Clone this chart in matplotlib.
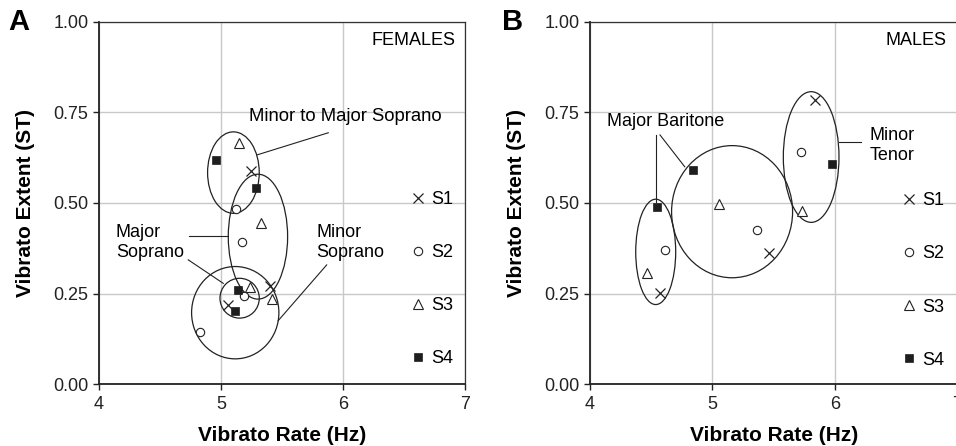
import matplotlib
matplotlib.use('Agg')
import matplotlib.pyplot as plt
from matplotlib.patches import Ellipse
from matplotlib.ticker import FormatStrFormatter
from matplotlib.lines import Line2D

plt.rcParams['font.family'] = ['Liberation Sans', 'DejaVu Sans']

# ---- data: females (panel A) ----
f_s1_rate = [5.246, 5.402, 5.056]
f_s1_ext = [0.589, 0.271, 0.218]
f_s2_rate = [5.121, 5.170, 5.192, 4.829]
f_s2_ext = [0.483, 0.392, 0.244, 0.143]
f_s3_rate = [5.148, 5.328, 5.238, 5.421]
f_s3_ext = [0.665, 0.446, 0.267, 0.235]
f_s4_rate = [4.957, 5.287, 5.143, 5.115]
f_s4_ext = [0.619, 0.541, 0.260, 0.202]

# ---- data: males (panel B) ----
m_s1_rate = [5.837, 5.464, 4.573]
m_s1_ext = [0.785, 0.363, 0.251]
m_s2_rate = [5.720, 5.361, 4.613]
m_s2_ext = [0.642, 0.425, 0.370]
m_s3_rate = [5.054, 5.733, 4.469]
m_s3_ext = [0.496, 0.479, 0.306]
m_s4_rate = [5.978, 4.844, 4.546]
m_s4_ext = [0.607, 0.591, 0.488]

# group ellipses: (centre rate, centre extent, width Hz, height ST)
f_groups = [(5.103, 0.584, 0.423, 0.225),
            (5.304, 0.407, 0.486, 0.345),
            (5.154, 0.237, 0.322, 0.110),
            (5.118, 0.197, 0.715, 0.255)]
m_groups = [(5.806, 0.627, 0.454, 0.361),
            (5.161, 0.476, 0.987, 0.365),
            (4.538, 0.365, 0.326, 0.291)]

subjects = ['S1', 'S2', 'S3', 'S4']
x_ticks = [4, 5, 6, 7]
y_ticks = [0.0, 0.25, 0.5, 0.75, 1.0]

fig = plt.figure(figsize=(9.56, 4.46), dpi=100)
axA = fig.add_axes([0.1033, 0.139, 0.3831, 0.8117])
axB = fig.add_axes([0.6169, 0.139, 0.3847, 0.8117])

sq_col = '#1e1e1e'


def style_axis(ax):
    ax.set_xlim(4, 7)
    ax.set_ylim(0, 1)
    ax.set_xticks(x_ticks)
    ax.set_yticks(y_ticks)
    ax.yaxis.set_major_formatter(FormatStrFormatter('%.2f'))
    ax.grid(True, color='#c8c8c8', lw=1.0, zorder=0)
    ax.set_axisbelow(True)
    ax.tick_params(direction='out', length=4.5, width=1.0, labelsize=13, colors='#222222')
    ax.tick_params(axis='x', pad=4)
    ax.tick_params(axis='y', pad=3)
    for s in ['left', 'bottom']:
        ax.spines[s].set_linewidth(1.3)
        ax.spines[s].set_color('#222222')
    for s in ['top', 'right']:
        ax.spines[s].set_linewidth(0.9)
        ax.spines[s].set_color('#333333')
    ax.set_xlabel('Vibrato Rate (Hz)', fontsize=15, fontweight='bold')
    ax.set_ylabel('Vibrato Extent (ST)', fontsize=15, fontweight='bold')
    ax.xaxis.set_label_coords(0.5, -0.141)
    ax.xaxis.label.set_va('center')
    ax.yaxis.set_label_coords(-0.20, 0.5)
    ax.yaxis.label.set_va('center')


def draw_points(ax, s1, s2, s3, s4):
    ax.plot(s1[0], s1[1], 'x', ms=7, mew=0.9, color='#222222', ls='none', zorder=3)
    ax.plot(s2[0], s2[1], 'o', ms=6, mew=0.8, mfc='white', mec='#222222', ls='none', zorder=3)
    ax.plot(s3[0], s3[1], '^', ms=7, mew=0.8, mfc='white', mec='#222222', ls='none', zorder=3)
    ax.plot(s4[0], s4[1], 's', ms=6, mew=0.5, color=sq_col, ls='none', zorder=3)


def draw_groups(ax, groups):
    for cx, cy, w, h in groups:
        ax.add_patch(Ellipse((cx, cy), w, h, fill=False, lw=0.9, ec='#222222', zorder=2))


def add_legend(ax, anchor):
    handles = [
        Line2D([], [], marker='x', ms=7, mew=0.9, color='#222222', ls='none'),
        Line2D([], [], marker='o', ms=6, mew=0.8, mfc='white', mec='#222222', ls='none'),
        Line2D([], [], marker='^', ms=7, mew=0.8, mfc='white', mec='#222222', ls='none'),
        Line2D([], [], marker='s', ms=6, mew=0.5, color=sq_col, ls='none'),
    ]
    ax.legend(handles, subjects, loc='center right', bbox_to_anchor=anchor, frameon=False,
              fontsize=13, labelspacing=2.0, handlelength=1.0, handletextpad=0.25,
              borderpad=0, borderaxespad=0)


# ---- panel A ----
style_axis(axA)
draw_groups(axA, f_groups)
draw_points(axA, (f_s1_rate, f_s1_ext), (f_s2_rate, f_s2_ext),
            (f_s3_rate, f_s3_ext), (f_s4_rate, f_s4_ext))
add_legend(axA, (0.968, 0.29))
axA.text(6.923, 0.948, 'FEMALES', ha='right', va='center', fontsize=13)
axA.text(5.23, 0.738, 'Minor to Major Soprano', ha='left', va='center', fontsize=13.3)
axA.plot([5.88, 5.298], [0.694, 0.633], color='#222222', lw=0.8)
axA.text(4.141, 0.391, 'Major\nSoprano', ha='left', va='center', fontsize=13, linespacing=1.2)
axA.plot([4.741, 5.061], [0.41, 0.41], color='#222222', lw=0.8)
axA.plot([4.733, 5.02], [0.343, 0.278], color='#222222', lw=0.8)
axA.text(5.785, 0.391, 'Minor\nSoprano', ha='left', va='center', fontsize=13, linespacing=1.2)
axA.plot([5.867, 5.47], [0.329, 0.175], color='#222222', lw=0.8)

# ---- panel B ----
style_axis(axB)
draw_groups(axB, m_groups)
draw_points(axB, (m_s1_rate, m_s1_ext), (m_s2_rate, m_s2_ext),
            (m_s3_rate, m_s3_ext), (m_s4_rate, m_s4_ext))
add_legend(axB, (0.965, 0.286))
axB.text(6.911, 0.948, 'MALES', ha='right', va='center', fontsize=13)
axB.text(4.143, 0.725, 'Major Baritone', ha='left', va='center', fontsize=13)
axB.plot([4.538, 4.538], [0.688, 0.504], color='#222222', lw=0.8)
axB.plot([4.573, 4.775], [0.688, 0.6], color='#222222', lw=0.8)
axB.text(6.28, 0.658, 'Minor\nTenor', ha='left', va='center', fontsize=13, linespacing=1.2)
axB.plot([6.033, 6.21], [0.669, 0.669], color='#222222', lw=0.8)

fig.text(19 / 956, 1 - 22 / 446, 'A', fontsize=21, fontweight='bold', ha='center', va='center')
fig.text(513 / 956, 1 - 22 / 446, 'B', fontsize=21, fontweight='bold', ha='center', va='center')

fig.savefig('out.png', dpi=100)
